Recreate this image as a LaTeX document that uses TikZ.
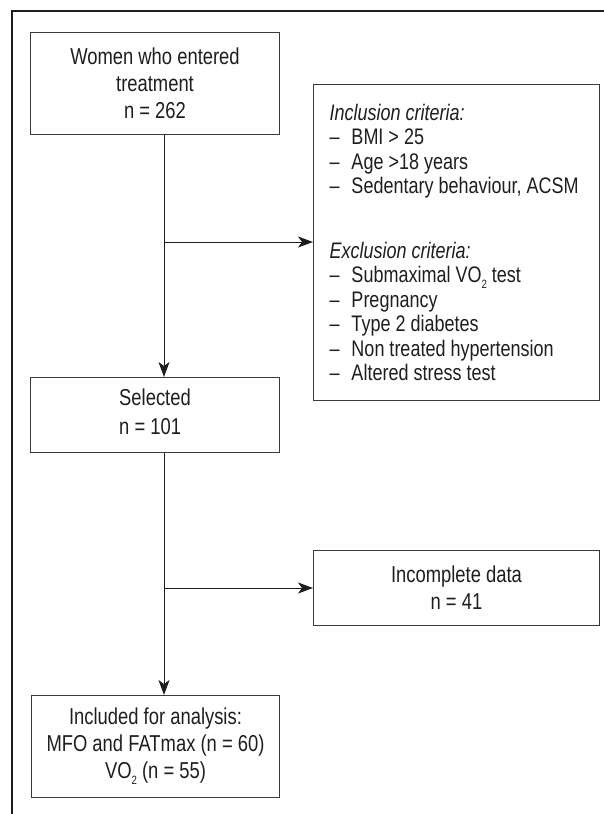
\documentclass[tikz,border=0pt]{standalone}
\usepackage{fontspec}
\setmainfont{Liberation Sans}[FakeStretch=0.8]
\usetikzlibrary{arrows.meta}
\definecolor{inkc}{HTML}{1E1E1E}
\definecolor{boxc}{HTML}{3A3A3A}
\newcommand\mainfs{\fontsize{23}{27}\selectfont}
\newcommand\critfs{\fontsize{22.5}{24.5}\selectfont}
\newcommand\dashitem{\makebox[22pt][l]{–}}
\newcommand\subtwo{\raisebox{-0.5ex}{\fontsize{12}{12}\selectfont 2}}
\begin{document}
\begin{tikzpicture}[x=1pt,y=-1pt,
  box/.style={draw=boxc, line width=1pt, inner sep=0pt, anchor=north west,
              align=center, font=\mainfs, text=inkc},
  crit/.style={draw=boxc, line width=1pt, inner xsep=16pt, inner ysep=0pt,
               anchor=north west, align=left, font=\critfs, text=inkc},
  conn/.style={draw=inkc, line width=1pt},
  arr/.style={conn, -{Stealth[length=15pt,width=11pt,inset=4pt]}},
  frame/.style={draw=inkc, line width=2.5pt}]
\useasboundingbox (0,0) rectangle (603,814);
% outer frame (top and left sides only)
\draw[frame] (12,816) -- (12,11) -- (605,11);

\node[box, minimum width=249pt, minimum height=102pt] (women) at (30,32)
  {Women who entered\\treatment\\n = 262};

\node[crit, text width=254pt, minimum height=316pt] (criteria) at (313,84)
  {\spaceskip=0pt\xspaceskip=0pt
   \textit{Inclusion criteria:}\\
   \dashitem BMI > 25\\
   \dashitem Age >18 years\\
   \dashitem Sedentary behaviour, ACSM\\[40pt]
   \textit{Exclusion criteria:}\\
   \dashitem Submaximal VO\subtwo{} test\\
   \dashitem Pregnancy\\
   \dashitem Type 2 diabetes\\
   \dashitem Non treated hypertension\\
   \dashitem Altered stress test};

\node[box, minimum width=249pt, minimum height=75pt] (selected) at (30,377)
  {\begin{tabular}{@{}l@{}}Selected\\[2pt]n = 101\end{tabular}};

\node[box, minimum width=286pt, minimum height=75pt] (incomplete) at (313,550)
  {Incomplete data\\n = 41};

\node[box, minimum width=248pt, minimum height=102pt] (included) at (31,695)
  {Included for analysis:\\MFO and FATmax (n = 60)\\VO\subtwo{} (n = 55)};

\coordinate (b1) at (164,242);
\coordinate (b2) at (164,588);

\draw[arr] (women.south -| b1) -- (selected.north -| b1);
\draw[arr] (b1) -- (criteria.west |- b1);
\draw[arr] (selected.south -| b2) -- (included.north -| b2);
\draw[arr] (b2) -- (incomplete.west |- b2);
\end{tikzpicture}
\end{document}
